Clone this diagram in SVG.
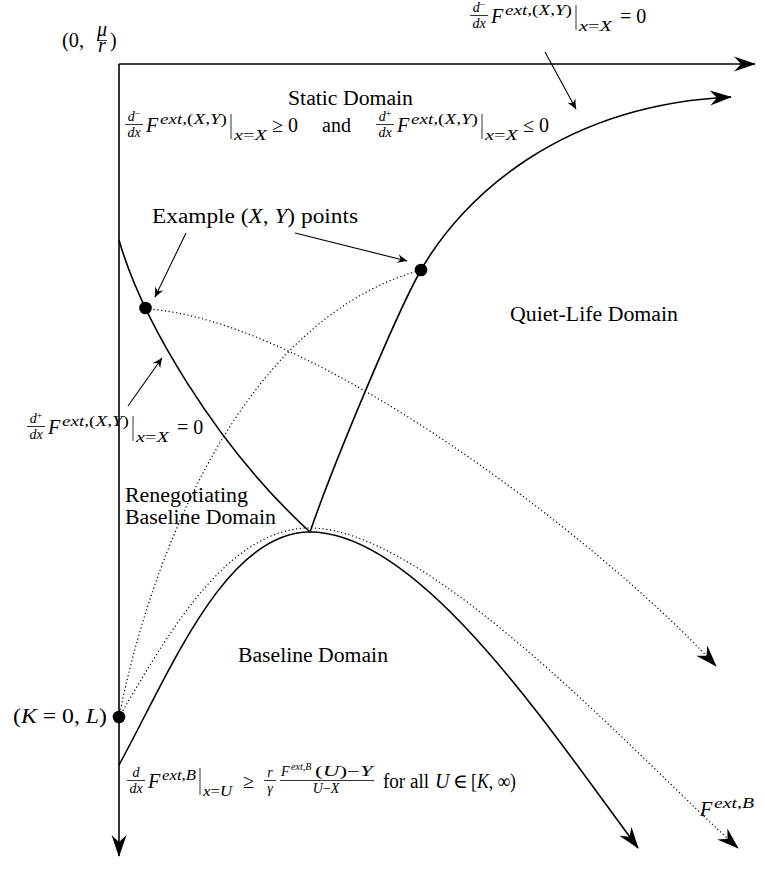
<svg xmlns="http://www.w3.org/2000/svg" width="765" height="891" viewBox="0 0 765 891">
<style>
.ln{fill:none;stroke:#000;stroke-width:1.6}
.dt{fill:none;stroke:#000;stroke-width:1.2;stroke-dasharray:1.2 2.6}
.pt{fill:none;stroke:#000;stroke-width:1.1}
.fb{stroke:#000;stroke-width:0.8}
.t{font-family:"Liberation Serif","DejaVu Serif",serif;font-size:20px;fill:#000}
.i{font-style:italic}
.s{font-size:14px}
.ss{font-size:10px}
.dotn{fill:#000}
</style>
<defs>
<marker id="big" viewBox="-23 -9 25 18" markerWidth="25" markerHeight="18" refX="-1" refY="0" orient="auto" markerUnits="userSpaceOnUse">
<path d="M0,0 L-22,-7.5 L-15,0 L-22,7.5 Z" fill="#000"/>
</marker>
<marker id="sm" viewBox="-12 -6 13 12" markerWidth="13" markerHeight="12" refX="-0.5" refY="0" orient="auto" markerUnits="userSpaceOnUse">
<path d="M0,0 C-3,-1 -7,-3 -10,-4.5 L-7,0 L-10,4.5 C-7,3 -3,1 0,0 Z" fill="#000"/>
</marker>
</defs>

<g id="connectors">
<path id="axis-y" class="ln" d="M119,64 L119,856" marker-end="url(#big)"/>
<path id="axis-x" class="ln" d="M119,64 L755,64" marker-end="url(#big)"/>
<path id="curve-left" class="ln" d="M119,240 C142,320 215,445 310,532"/>
<path id="curve-quiet" class="ln" d="M310,532 C333,465 397,312 421,270 C462,198 560,105 731,97" marker-end="url(#big)"/>
<path id="curve-baseline" class="ln" d="M119,765 C170,672 225,532 310,532 C420,532 550,730 638,848" marker-end="url(#big)"/>
<path id="dotted-1" class="dt" d="M146,309 C310,318 600,540 716,666" marker-end="url(#big)"/>
<path id="dotted-2" class="dt" d="M119,717 C150,560 240,320 421,270"/>
<path id="dotted-3" class="dt" d="M119,717 C165,640 225,528 310,528 C430,528 640,760 738,848" marker-end="url(#big)"/>
<path id="ptr-top" class="pt" d="M545,52 L576,109" marker-end="url(#sm)"/>
<path id="ptr-ex1" class="pt" d="M186,233 L155,297" marker-end="url(#sm)"/>
<path id="ptr-ex2" class="pt" d="M295,233 L407,261" marker-end="url(#sm)"/>
<path id="ptr-left" class="pt" d="M128,406 L162,358" marker-end="url(#sm)"/>
</g>

<g id="dot-1"><circle class="dotn" cx="145.5" cy="308" r="6.3"/></g>
<g id="dot-2"><circle class="dotn" cx="421" cy="270" r="6.3"/></g>
<g id="dot-K"><circle class="dotn" cx="119" cy="717" r="6.3"/></g>

<g id="label-origin">
<text class="t" x="62" y="47" textLength="22" lengthAdjust="spacingAndGlyphs">(0,</text>
<text class="t i" x="102" y="35.5" font-size="10.5" text-anchor="middle">μ<tspan x="102" y="52">r</tspan></text>
<line class="fb" x1="97" y1="40.5" x2="107" y2="40.5"/>
<text class="t" x="110" y="47">)</text>
</g>

<g id="label-top">
<text class="t s i" x="479" y="12" text-anchor="middle">d<tspan class="ss" font-style="normal" dy="-4">−</tspan></text>
<line class="fb" x1="470" y1="15.5" x2="488" y2="15.5"/>
<text class="t s i" x="479" y="28" text-anchor="middle">dx</text>
<text class="t i" x="491" y="23">F</text>
<text class="t s" x="505" y="15" textLength="67" lengthAdjust="spacingAndGlyphs"><tspan class="i">ext,</tspan>(<tspan class="i">X</tspan>,<tspan class="i">Y</tspan>)</text>
<line class="fb" x1="576" y1="5" x2="576" y2="30"/>
<text class="t s" x="579" y="31" textLength="33" lengthAdjust="spacingAndGlyphs"><tspan class="i">x</tspan>=<tspan class="i">X</tspan></text>
<text class="t" x="620" y="23">= 0</text>
</g>

<g id="static-domain">
<text class="t" x="288" y="105" textLength="125" lengthAdjust="spacingAndGlyphs">Static Domain</text>
<text class="t s i" x="134" y="121" text-anchor="middle">d<tspan class="ss" font-style="normal" dy="-4">−</tspan></text>
<line class="fb" x1="125" y1="124.5" x2="143" y2="124.5"/>
<text class="t s i" x="134" y="137" text-anchor="middle">dx</text>
<text class="t i" x="146" y="132">F</text>
<text class="t s" x="160" y="124" textLength="67" lengthAdjust="spacingAndGlyphs"><tspan class="i">ext,</tspan>(<tspan class="i">X</tspan>,<tspan class="i">Y</tspan>)</text>
<line class="fb" x1="231" y1="114" x2="231" y2="139"/>
<text class="t s" x="234" y="140" textLength="33" lengthAdjust="spacingAndGlyphs"><tspan class="i">x</tspan>=<tspan class="i">X</tspan></text>
<text class="t" x="272" y="132">≥ 0</text>
<text class="t" x="322" y="132">and</text>
<text class="t s i" x="385" y="121" text-anchor="middle">d<tspan class="ss" font-style="normal" dy="-4">+</tspan></text>
<line class="fb" x1="376" y1="124.5" x2="394" y2="124.5"/>
<text class="t s i" x="385" y="137" text-anchor="middle">dx</text>
<text class="t i" x="397" y="132">F</text>
<text class="t s" x="411" y="124" textLength="67" lengthAdjust="spacingAndGlyphs"><tspan class="i">ext,</tspan>(<tspan class="i">X</tspan>,<tspan class="i">Y</tspan>)</text>
<line class="fb" x1="482" y1="114" x2="482" y2="139"/>
<text class="t s" x="485" y="140" textLength="33" lengthAdjust="spacingAndGlyphs"><tspan class="i">x</tspan>=<tspan class="i">X</tspan></text>
<text class="t" x="523" y="132">≤ 0</text>
</g>

<g id="label-example">
<text class="t" x="152" y="223" textLength="206" lengthAdjust="spacingAndGlyphs">Example (<tspan class="i">X</tspan>, <tspan class="i">Y</tspan>) points</text>
</g>

<g id="quiet-life-domain">
<text class="t" x="510" y="321" textLength="168" lengthAdjust="spacingAndGlyphs">Quiet-Life Domain</text>
</g>

<g id="label-left">
<text class="t s i" x="36" y="423" text-anchor="middle">d<tspan class="ss" font-style="normal" dy="-4">+</tspan></text>
<line class="fb" x1="27" y1="426.5" x2="45" y2="426.5"/>
<text class="t s i" x="36" y="439" text-anchor="middle">dx</text>
<text class="t i" x="48" y="434">F</text>
<text class="t s" x="62" y="426" textLength="67" lengthAdjust="spacingAndGlyphs"><tspan class="i">ext,</tspan>(<tspan class="i">X</tspan>,<tspan class="i">Y</tspan>)</text>
<line class="fb" x1="133" y1="416" x2="133" y2="441"/>
<text class="t s" x="136" y="442" textLength="33" lengthAdjust="spacingAndGlyphs"><tspan class="i">x</tspan>=<tspan class="i">X</tspan></text>
<text class="t" x="177" y="434">= 0</text>
</g>

<g id="renegotiating-domain">
<text class="t" x="125" y="502" textLength="123" lengthAdjust="spacingAndGlyphs">Renegotiating</text>
<text class="t" x="125" y="524" textLength="151" lengthAdjust="spacingAndGlyphs">Baseline Domain</text>
</g>

<g id="baseline-domain">
<text class="t" x="238" y="662" textLength="150" lengthAdjust="spacingAndGlyphs">Baseline Domain</text>
</g>

<g id="label-K">
<text class="t" x="13" y="723" textLength="94" lengthAdjust="spacingAndGlyphs">(<tspan class="i">K</tspan> = 0, <tspan class="i">L</tspan>)</text>
</g>

<g id="label-bottom">
<text class="t s i" x="136" y="777" text-anchor="middle">d</text>
<line class="fb" x1="127" y1="780.5" x2="145" y2="780.5"/>
<text class="t s i" x="136" y="793" text-anchor="middle">dx</text>
<text class="t i" x="148" y="788">F</text>
<text class="t s" x="162" y="780" textLength="34" lengthAdjust="spacingAndGlyphs"><tspan class="i">ext,B</tspan></text>
<line class="fb" x1="200" y1="768" x2="200" y2="795"/>
<text class="t s" x="203" y="796" textLength="29" lengthAdjust="spacingAndGlyphs"><tspan class="i">x</tspan>=<tspan class="i">U</tspan></text>
<text class="t" x="243" y="788">≥</text>
<text class="t s i" x="270" y="777" text-anchor="middle">r</text>
<line class="fb" x1="264" y1="780.5" x2="276" y2="780.5"/>
<text class="t s i" x="270" y="793" text-anchor="middle">γ</text>
<text class="t s i" x="281" y="776">F</text>
<text class="t ss i" x="291" y="770">ext,B</text>
<text class="t s" x="315" y="776" textLength="58" lengthAdjust="spacingAndGlyphs">(<tspan class="i">U</tspan>)−<tspan class="i">Y</tspan></text>
<line class="fb" x1="280" y1="780.5" x2="374" y2="780.5"/>
<text class="t s" x="326" y="793" text-anchor="middle"><tspan class="i">U</tspan>−<tspan class="i">X</tspan></text>
<text class="t" x="383" y="788" textLength="46" lengthAdjust="spacingAndGlyphs">for all</text>
<text class="t i" x="435" y="788">U</text>
<text class="t" x="453" y="788">∈</text>
<text class="t" x="471" y="788" textLength="45" lengthAdjust="spacingAndGlyphs">[<tspan class="i">K</tspan>, ∞)</text>
</g>

<g id="label-Fext">
<text class="t i" x="700" y="816">F</text>
<text class="t s i" x="714" y="808" textLength="40" lengthAdjust="spacingAndGlyphs">ext,B</text>
</g>
</svg>
